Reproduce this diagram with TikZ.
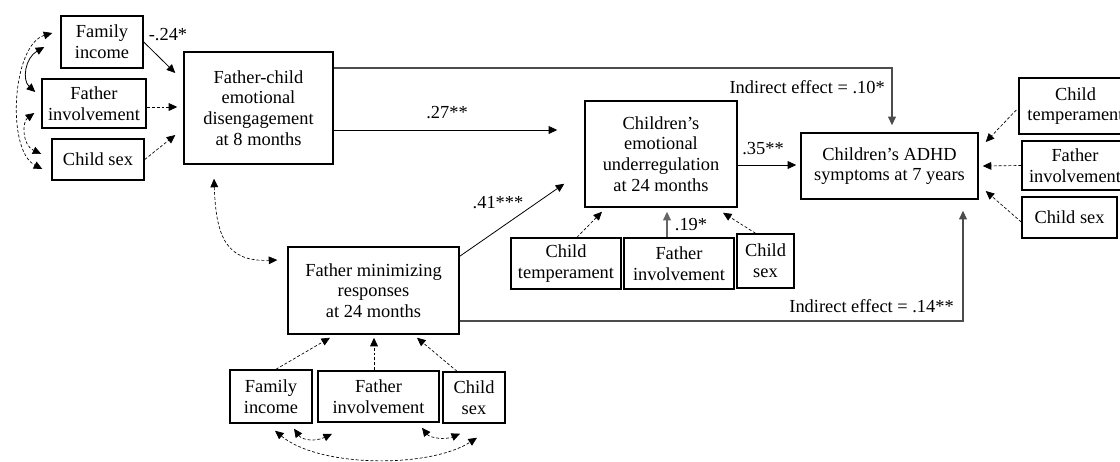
\documentclass[tikz,border=0pt]{standalone}
\usepackage{fontspec}
\setmainfont{Liberation Serif}
\usetikzlibrary{arrows.meta,calc}
\begin{document}
\begin{tikzpicture}[x=0.75pt,y=-0.75pt,
  box/.style={draw, line width=1.1pt, inner sep=0pt, align=center, font=\fontsize{13.8}{15.6}\selectfont},
  sz/.style 2 args={minimum width=#1*0.75pt, minimum height=#2*0.75pt},
  lbl/.style={font=\fontsize{13.8}{15.6}\selectfont, inner sep=0pt},
  tip/.style={-{Triangle[length=6.4pt,width=5.8pt]}},
  tips/.style={{Triangle[length=6.4pt,width=5.8pt]}-{Triangle[length=6.4pt,width=5.8pt]}},
  sol/.style={tip, line width=0.6pt},
  solb/.style={tips, line width=0.6pt},
  dsh/.style={tip, line width=0.5pt, dash pattern=on 2.2pt off 1.5pt},
  dshb/.style={tips, line width=0.5pt, dash pattern=on 2.2pt off 1.5pt},
  longline/.style={tip, line width=0.8pt, draw=black!70},
  grayarrow/.style={tip, line width=1pt, draw=black!60}
]
\useasboundingbox (0,0) rectangle (1120,461);
\clip (0,0) rectangle (1120,461);

% boxes
\node[box, sz={149}{112}] (fc) at (258.5,108) {Father-child\\emotional\\disengagement\\at 8 months};
\node[box, sz={82}{52}] (fi1) at (102,42) {Family\\income};
\node[box, sz={104}{49}] (fv1) at (94,103.5) {Father\\involvement};
\node[box, sz={92}{41}] (cs1) at (98,159.5) {Child sex};

\node[box, sz={152}{106}] (ce) at (661,154) {Children’s\\emotional\\underregulation\\at 24 months};
\node[box, sz={110}{51}] (ct2) at (566,263.5) {Child\\temperament};
\node[box, sz={110}{51}] (fv2) at (679,263.5) {Father\\involvement};
\node[box, sz={57}{54}] (cs2) at (765.5,261) {Child\\sex};

\node[box, sz={177}{66}] (adhd) at (889.5,166) {Children’s ADHD\\symptoms at 7 years};
\node[box, sz={113}{56}] (ct3) at (1075.5,106) {Child\\temperament};
\node[box, sz={106}{49}] (fv3) at (1075,165.5) {Father\\involvement};
\node[box, sz={95}{41}] (cs3) at (1069.5,217.5) {Child sex};

\node[box, sz={171}{87}] (fm) at (373.5,290.5) {Father minimizing\\responses\\at 24 months};
\node[box, sz={82}{53}] (fi4) at (271,396.5) {Family\\income};
\node[box, sz={121}{51}] (fv4) at (378.5,396.5) {Father\\involvement};
\node[box, sz={62}{51}] (cs4) at (474,397.5) {Child\\sex};

% left covariates to fc
\draw[sol] (fi1.east) -- ([shift={(-8,-35)}]fc.west);
\draw[dsh] ([shift={(0,3.5)}]fv1.east) -- ([shift={(-6,-1)}]fc.west);
\draw[dsh] (cs1.east) -- ([shift={(-8,27)}]fc.west);

% left correlation curves
\draw[dshb] ([shift={(-8,-9)}]fi1.west) .. controls (12,45) and (6,150) .. ([shift={(-9,9.5)}]cs1.west);
\draw[solb] ([shift={(-16,5)}]fi1.west) .. controls (25,58) and (22,80) .. ([shift={(-6,-11.5)}]fv1.west);
\draw[dshb] ([shift={(-7,9.5)}]fv1.west) .. controls (22,122) and (22,145) .. ([shift={(-10,-5.5)}]cs1.west);

% fc <-> fm
\draw[dshb] ([shift={(-44.5,14)}]fc.south) .. controls (216,235) and (225,262) .. ([shift={(-10,-30.5)}]fm.west);

% main paths
\draw[longline] ([shift={(0,-40)}]fc.east) -| ([shift={(2.5,-7)}]adhd.north);
\draw[sol] ([shift={(0,22)}]fc.east) -- ([shift={(-27,-24)}]ce.west);
\draw[sol] ([shift={(0,10)}]fm.north east) -- ([shift={(-20,-24)}]ce.south west);
\draw[sol] ([shift={(0,11)}]ce.east) -- ([shift={(-4,-1)}]adhd.west);
\draw[longline] ([shift={(0,30.5)}]fm.east) -| ([shift={(73.5,11)}]adhd.south);

% covariates of ce
\draw[dsh] ([shift={(11,0)}]ct2.north) -- ([shift={(-59,4)}]ce.south);
\draw[grayarrow] ([shift={(-12,0)}]fv2.north) -- ([shift={(6,4)}]ce.south);
\draw[dsh] ([shift={(-10,0)}]cs2.north) -- ([shift={(62,5)}]ce.south);

% covariates of adhd
\draw[dsh] ([shift={(-2,4)}]ct3.west) -- ([shift={(7,-24)}]adhd.east);
\draw[dsh] (fv3.west) -- ([shift={(4,0)}]adhd.east);
\draw[dsh] ([shift={(0,4.5)}]cs3.west) -- ([shift={(7,25)}]adhd.east);

% covariates of fm
\draw[dsh] ([shift={(5,0)}]fi4.north) -- ([shift={(-43.5,3)}]fm.south);
\draw[dsh] ([shift={(-4.5,0)}]fv4.north) -- ([shift={(0.5,3)}]fm.south);
\draw[dsh] ([shift={(-17,0)}]cs4.north) -- ([shift={(43.5,3)}]fm.south);

% bottom correlation curves
\draw[dshb] ([shift={(23,5)}]fi4.south) .. controls (302,440) and (315,442) .. ([shift={(-46.5,11)}]fv4.south);
\draw[dshb] ([shift={(43.5,5)}]fv4.south) .. controls (430,438) and (445,440) .. ([shift={(-14,10)}]cs4.south);
\draw[dshb] ([shift={(4,7)}]fi4.south) .. controls (320,468) and (430,468) .. ([shift={(3,14)}]cs4.south);

% labels
\node[lbl] (l24) at (168,35) {-.24*};
\node[lbl] (l27) at (447,113) {.27**};
\node[lbl] (l41) at (498,203) {.41***};
\node[lbl] (l35) at (763,149) {.35**};
\node[lbl] (l19) at (691,225) {.19*};
\node[lbl, anchor=east] (lind1) at (885,87) {Indirect effect = .10*};
\node[lbl, anchor=east] (lind2) at (954,306) {Indirect effect = .14**};
\end{tikzpicture}
\end{document}
